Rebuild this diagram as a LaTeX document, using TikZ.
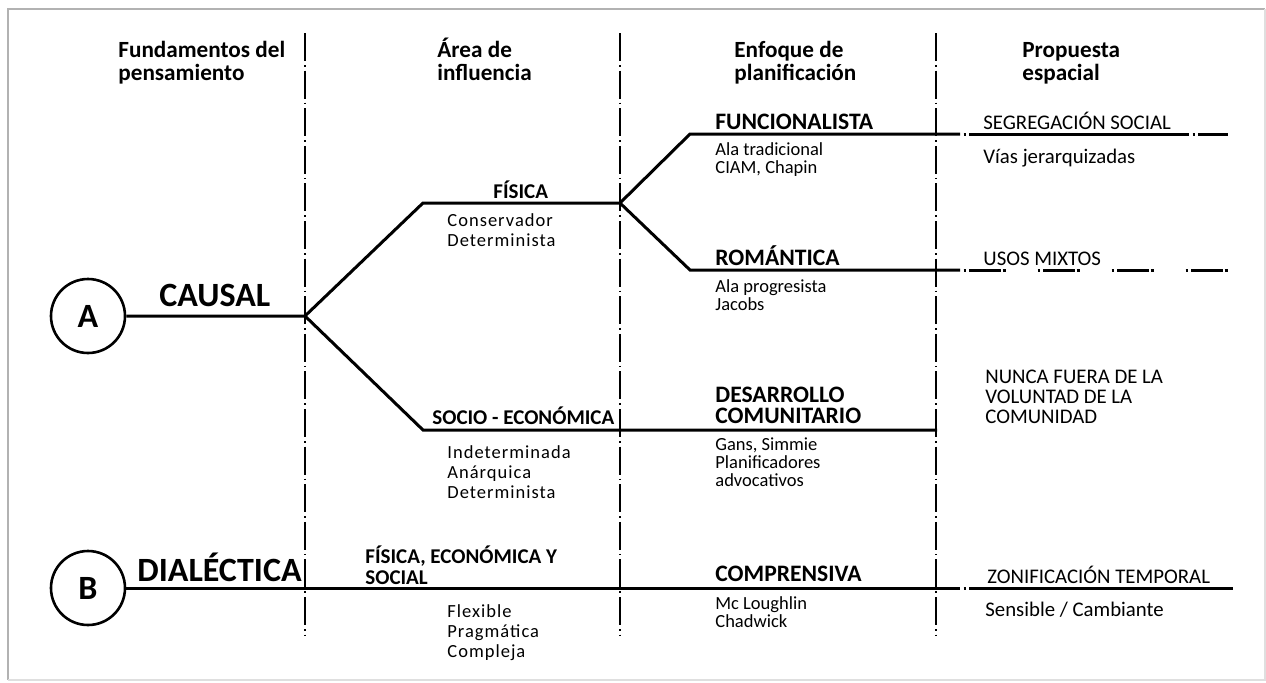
\documentclass[tikz,border=0pt]{standalone}
\usepackage{fontspec}
\setmainfont{Carlito}
\usetikzlibrary{positioning}

\tikzset{
  rama/.style={line width=1.5pt},
  divisor/.style={line width=0.7pt, dash pattern=on 14pt off 2pt on 0.8pt off 2pt},
  texto/.style={anchor=base west, inner sep=0pt, align=left},
  encabezado/.style={texto, font=\bfseries\fontsize{11.6}{11.2}\selectfont},
  grande/.style={texto, font=\bfseries\fontsize{17}{17}\selectfont},
  area/.style={texto, font=\bfseries\fontsize{10.5}{10.5}\selectfont},
  enfoque/.style={texto, font=\bfseries\fontsize{11.8}{10.5}\selectfont},
  detalle/.style={texto, font=\fontsize{9.25}{9}\selectfont},
  detalleEsp/.style={texto, font=\fontsize{9.25}{10}\selectfont\addfontfeature{LetterSpace=5.5}},
  propuesta/.style={texto, font=\fontsize{10.4}{10}\selectfont},
  letra/.style={circle, draw, line width=1.3pt, minimum size=37pt, inner sep=0pt,
    font=\bfseries\fontsize{17}{17}\selectfont},
  propLarga/.style={rama, dash pattern=on 0pt off 1.75pt on 1pt off 1.75pt on 110pt off 1.75pt on 1pt off 1.75pt on 14pt},
  propCorta/.style={rama, dash pattern=on 0pt off 1.75pt on 1pt off 1.75pt on 14pt},
  propUna/.style={rama, dash pattern=on 0pt off 1.75pt on 1pt off 1.75pt on 140pt}
}

\begin{document}
\begin{tikzpicture}[x=0.5pt,y=-0.5pt]
  \useasboundingbox (0,0) rectangle (1266,682);

  % Marco
  \draw[gray!60, line width=0.7pt] (8,680) -- (8,9) -- (1265,9);
  \draw[gray!25, line width=0.6pt] (8,680) -- (1265,680) -- (1265,9);

  % Columnas
  \foreach \x in {305,620,936}
    \draw[divisor] (\x,33) -- (\x,636);

  % Encabezados (base en la ultima linea)
  \node[encabezado] (hFund) at (118,80) {Fundamentos del\\pensamiento};
  \node[encabezado] (hArea) at (437,80) {Área de\\influencia};
  \node[encabezado] (hEnf) at (734,80) {Enfoque de\\planificación};
  \node[encabezado] (hProp) at (1022,80) {Propuesta\\espacial};

  % Fundamentos
  \node[letra] (A) at (88,316) {A};
  \node[letra] (B) at (88,588) {B};
  \node[grande] (tCausal) at (159,306) {CAUSAL};
  \node[grande] (tDial) at (137,581) {DIALÉCTICA};

  % Puntos de quiebre
  \coordinate (j1) at (305,316);
  \coordinate (kFis) at (423,203);
  \coordinate (j2) at (620,203);
  \coordinate (kSoc) at (423,430);
  \coordinate (eSoc) at (937,430);
  \coordinate (kFun) at (690,134);
  \coordinate (eFun) at (960,134);
  \coordinate (fFun) at (1228,134);
  \coordinate (kRom) at (690,270);
  \coordinate (eRom) at (960,270);
  \coordinate (fRom) at (1230,270);
  \coordinate (eB) at (960,588);
  \coordinate (fB) at (1233,588);

  % Ramas
  \draw[rama] (A) -- (j1) -- (kFis) -- (j2) -- (kFun) -- (eFun);
  \draw[rama] (j2) -- (kRom) -- (eRom);
  \draw[rama] (j1) -- (kSoc) -- (eSoc);
  \draw[rama] (B) -- (eB);
  \draw[propLarga] (eFun) -- (fFun);
  \draw[propCorta] (eRom) -- (fRom);
  \draw[propUna] (eB) -- (fB);

  % Area de influencia
  \node[area] (tFis) at (493,198) {FÍSICA};
  \node[detalleEsp] (dFis) at (447,246) {Conservador\\Determinista};
  \node[area] (tSoc) at (432,424) {SOCIO - ECONÓMICA};
  \node[detalleEsp] (dSoc) at (447,498) {Indeterminada\\Anárquica\\Determinista};
  \node[area] (tFes) at (365,584) {FÍSICA, ECONÓMICA Y\\SOCIAL};
  \node[detalleEsp] (dFes) at (447,657) {Flexible\\Pragmática\\Compleja};

  % Enfoque de planificacion
  \node[enfoque] (tFun) at (715,129) {FUNCIONALISTA};
  \node[detalle] (dFun) at (715,173) {Ala tradicional\\CIAM, Chapin};
  \node[enfoque] (tRom) at (715,265) {ROMÁNTICA};
  \node[detalle] (dRom) at (715,310) {Ala progresista\\Jacobs};
  \node[enfoque] (tDes) at (715,423) {DESARROLLO\\COMUNITARIO};
  \node[detalle] (dDes) at (715,486) {Gans, Simmie\\Planificadores\\advocativos};
  \node[enfoque] (tCom) at (715,581) {COMPRENSIVA};
  \node[detalle] (dCom) at (715,627) {Mc Loughlin\\Chadwick};

  % Propuesta espacial
  \node[propuesta] (pSeg) at (983,129) {SEGREGACIÓN SOCIAL};
  \node[propuesta] (pVias) at (983,163) {Vías jerarquizadas};
  \node[propuesta] (pUsos) at (983,265) {USOS MIXTOS};
  \node[propuesta] (pNunca) at (985,423) {NUNCA FUERA DE LA\\VOLUNTAD DE LA\\COMUNIDAD};
  \node[propuesta] (pZon) at (987,583) {ZONIFICACIÓN TEMPORAL};
  \node[propuesta] (pSens) at (985,616) {Sensible / Cambiante};
\end{tikzpicture}
\end{document}
